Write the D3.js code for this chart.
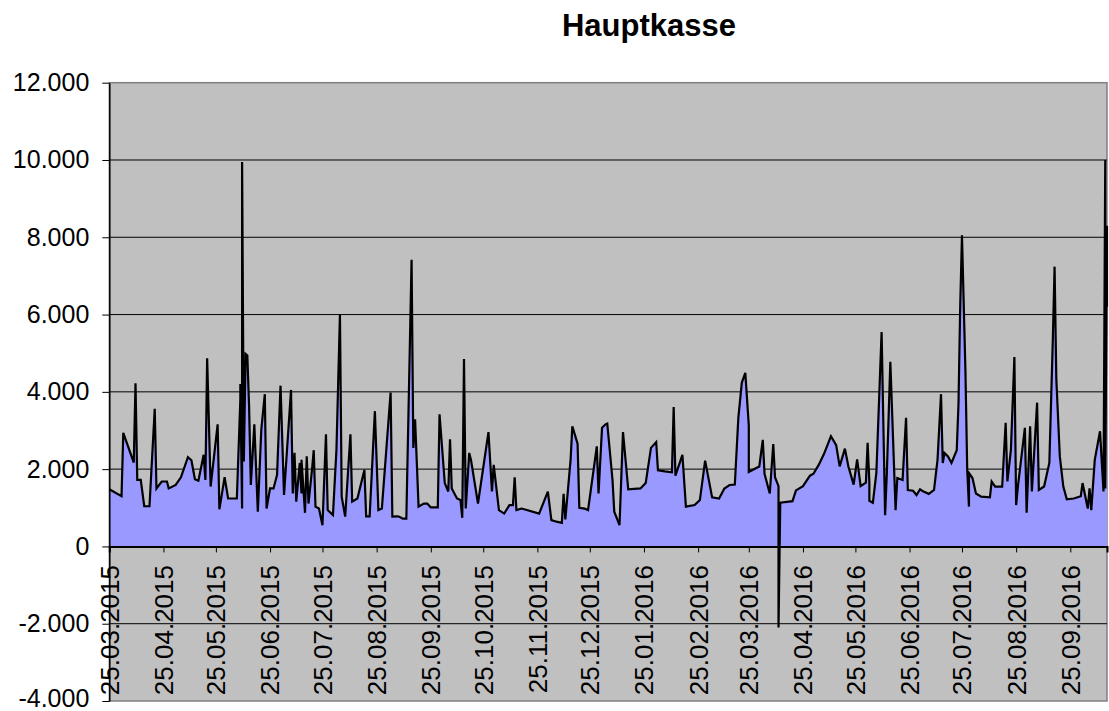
<!DOCTYPE html>
<html>
<head>
<meta charset="utf-8">
<script src="https://cdn.jsdelivr.net/npm/d3@7"></script>
<style>
  body { margin: 0; background: #fff; }
  text { font-family: "Liberation Sans", Arial, sans-serif; }
</style>
</head>
<body>
<script>
// days counted from 25.03.2015, same day can appear more than once (several bookings)
const startDay = "25.03.2015";
const dayOffsets = [
  0, 7, 8, 14, 15, 16, 18, 20, 23, 26, 27, 30, 33, 34, 38, 41, 45, 47, 49, 51,
  54, 55, 56, 58, 62, 63, 66, 68, 73, 75, 75, 76, 76, 77, 78, 79, 80, 81, 83, 85,
  87, 89, 90, 92, 94, 96, 98, 100, 104, 105, 106, 107, 109, 110, 110, 112, 113, 114, 116, 117,
  118, 120, 122, 124, 125, 128, 130, 132, 133, 135, 138, 139, 142, 146, 147, 149, 152, 154, 156, 161,
  162, 165, 166, 168, 170, 173, 174, 175, 177, 180, 182, 184, 188, 189, 192, 194, 195, 196, 199, 201,
  202, 203, 204, 206, 207, 211, 217, 219, 220, 223, 226, 229, 231, 232, 233, 236, 246, 251, 253, 256,
  259, 260, 261, 264, 265, 268, 269, 272, 274, 279, 280, 282, 284, 285, 288, 289, 292, 294, 297, 304,
  307, 310, 313, 314, 318, 322, 323, 324, 328, 330, 335, 338, 341, 345, 349, 352, 355, 358, 360, 362,
  364, 366, 366, 372, 374, 375, 378, 380, 381, 383, 383, 384, 391, 393, 397, 401, 403, 406, 409, 413,
  416, 418, 421, 423, 426, 428, 430, 433, 434, 435, 435, 437, 439, 442, 444, 445, 447, 450, 451, 454,
  456, 457, 460, 462, 464, 466, 469, 472, 474, 476, 477, 478, 480, 482, 485, 486, 487, 488, 490, 491,
  492, 492, 494, 496, 499, 504, 505, 507, 511, 513, 514, 516, 518, 519, 520, 524, 525, 527, 528, 531,
  532, 535, 538, 540, 541, 542, 544, 546, 548, 552, 556, 557, 560, 561, 562, 564, 567, 569, 570, 570,
  571, 571
];
const amounts = [
  1480, 1300, 2940, 2170, 4220, 1720, 1720, 1040, 1040, 3560, 1500, 1680, 1680, 1500, 1590, 1790, 2310, 2230, 1740, 1700,
  2370, 1720, 4870, 1550, 3160, 960, 1790, 1240, 1240, 3810, 4200, 980, 9950, 2200, 4980, 4940, 3630, 1590, 3160, 900,
  3030, 3940, 980, 1500, 1500, 1850, 4160, 1330, 4050, 1370, 2420, 1160, 2160, 1370, 2240, 870, 2330, 1110, 1980, 2490,
  1030, 980, 550, 2900, 940, 810, 2500, 6000, 1290, 770, 2900, 1160, 1240, 1980, 780, 780, 3500, 940, 980, 3980,
  770, 780, 770, 720, 720, 7420, 2550, 3290, 1030, 1110, 1110, 1010, 1010, 3420, 1640, 1420, 2770, 1500, 1240, 1200,
  740, 4850, 980, 2420, 2240, 1110, 2960, 1420, 2110, 940, 850, 1070, 1070, 1790, 940, 980, 850, 1420, 680, 640,
  610, 1360, 700, 2240, 3110, 2660, 1000, 980, 940, 2590, 1370, 3070, 3160, 3180, 1720, 900, 550, 2960, 1480, 1500,
  1640, 2550, 2700, 1970, 1940, 1920, 3610, 1830, 2370, 1030, 1070, 1200, 2220, 1270, 1240, 1500, 1590, 1600, 3320, 4240,
  4490, 3130, 1930, 2070, 2760, 1880, 1370, 2650, 1790, 1560, -2100, 1130, 1170, 1450, 1560, 1830, 1880, 2110, 2390, 2850,
  2620, 2070, 2530, 2070, 1600, 2250, 1560, 1650, 2680, 1640, 1180, 1130, 1900, 5550, 810, 1900, 4780, 940, 1770, 1720,
  3330, 1460, 1440, 1330, 1480, 1420, 1360, 1460, 2240, 3940, 2160, 2420, 2330, 2160, 2490, 3680, 6240, 8050, 4500, 1980,
  1030, 1900, 1770, 1370, 1290, 1270, 1680, 1550, 1550, 3200, 1680, 2500, 4900, 1070, 1550, 3070, 870, 3110, 1420, 3720,
  1460, 1550, 2160, 5370, 7240, 4330, 2330, 1550, 1220, 1240, 1300, 1640, 980, 1500, 940, 2240, 2980, 1420, 10000, 1500,
  8300, 6200
];
const tickLabels = [
  "25.03.2015", "25.04.2015", "25.05.2015", "25.06.2015", "25.07.2015", "25.08.2015",
  "25.09.2015", "25.10.2015", "25.11.2015", "25.12.2015", "25.01.2016", "25.02.2016",
  "25.03.2016", "25.04.2016", "25.05.2016", "25.06.2016", "25.07.2016", "25.08.2016", "25.09.2016"
];
const yTicks = [-4000, -2000, 0, 2000, 4000, 6000, 8000, 10000, 12000];
const chartTitle = "Hauptkasse";

const w = 1109;
const h = 711;
const plotLeft = 109.3, plotRight = 1107, plotTop = 82.7, plotBottom = 701;

const parseDay = d3.timeParse("%d.%m.%Y");
const start = parseDay(startDay);
const data = dayOffsets.map((d, i) => ({ date: d3.timeDay.offset(start, d), value: amounts[i] }));

const de = d3.formatLocale({ decimal: ",", thousands: ".", grouping: [3], currency: ["", " €"], minus: "-" });
const fmt = de.format(",d");

const svg = d3.select("body").append("svg")
  .attr("width", w)
  .attr("height", h);

const xScale = d3.scaleTime()
  .domain(d3.extent(data, d => d.date))
  .range([plotLeft, plotRight]);

const yScale = d3.scaleLinear()
  .domain([-4000, 12000])
  .range([plotBottom, plotTop]);

// plot area
svg.append("rect")
  .attr("x", plotLeft).attr("y", plotTop)
  .attr("width", plotRight - plotLeft).attr("height", plotBottom - plotTop)
  .attr("fill", "#c0c0c0")
  .attr("stroke", "#808080")
  .attr("stroke-width", 1.5);

// gridlines
svg.append("g")
  .selectAll("line")
  .data(yTicks.filter(t => t > -4000 && t < 12000 && t !== 0))
  .enter().append("line")
  .attr("x1", plotLeft).attr("x2", plotRight)
  .attr("y1", d => yScale(d)).attr("y2", d => yScale(d))
  .attr("stroke", "#000")
  .attr("stroke-width", 1);

// x tick labels (inside the plot area, under the zero line)
const xTicks = tickLabels.map(parseDay);
svg.append("g")
  .selectAll("text")
  .data(xTicks)
  .enter().append("text")
  .attr("transform", d => "translate(" + xScale(d) + "," + 565 + ") rotate(-90)")
  .attr("dy", "0.36em")
  .attr("text-anchor", "end")
  .attr("font-size", 26)
  .attr("fill", "#000")
  .text((d, i) => tickLabels[i]);

// area + line
const area = d3.area()
  .x(d => xScale(d.date))
  .y0(yScale(0))
  .y1(d => yScale(d.value));

const line = d3.line()
  .x(d => xScale(d.date))
  .y(d => yScale(d.value));

svg.append("path")
  .datum(data)
  .attr("d", area)
  .attr("fill", "#9999ff");

svg.append("path")
  .datum(data)
  .attr("d", line)
  .attr("fill", "none")
  .attr("stroke", "#000")
  .attr("stroke-width", 2.2);

// x axis at zero
const xAxis = d3.axisBottom(xScale)
  .tickValues(xTicks)
  .tickSize(6)
  .tickFormat("");
svg.append("g")
  .attr("transform", "translate(0," + yScale(0) + ")")
  .call(xAxis)
  .call(g => g.select(".domain").attr("stroke-width", 2));

// y axis
const yAxis = d3.axisLeft(yScale)
  .tickValues(yTicks)
  .tickSize(7)
  .tickSizeOuter(0)
  .tickPadding(13)
  .tickFormat(fmt);
svg.append("g")
  .attr("transform", "translate(" + plotLeft + ",0)")
  .call(yAxis)
  .call(g => g.selectAll("text")
    .attr("font-size", 25)
    .attr("font-family", "'Liberation Sans', Arial, sans-serif")
    .attr("fill", "#000")
    .attr("dy", d => d === -4000 ? "0.2em" : "0.32em"))
  .call(g => g.select(".domain").attr("stroke-width", 1.5));

// title
svg.append("text")
  .attr("x", 649)
  .attr("y", 36)
  .attr("text-anchor", "middle")
  .attr("font-size", 31)
  .attr("font-weight", "bold")
  .text(chartTitle);
</script>
</body>
</html>
